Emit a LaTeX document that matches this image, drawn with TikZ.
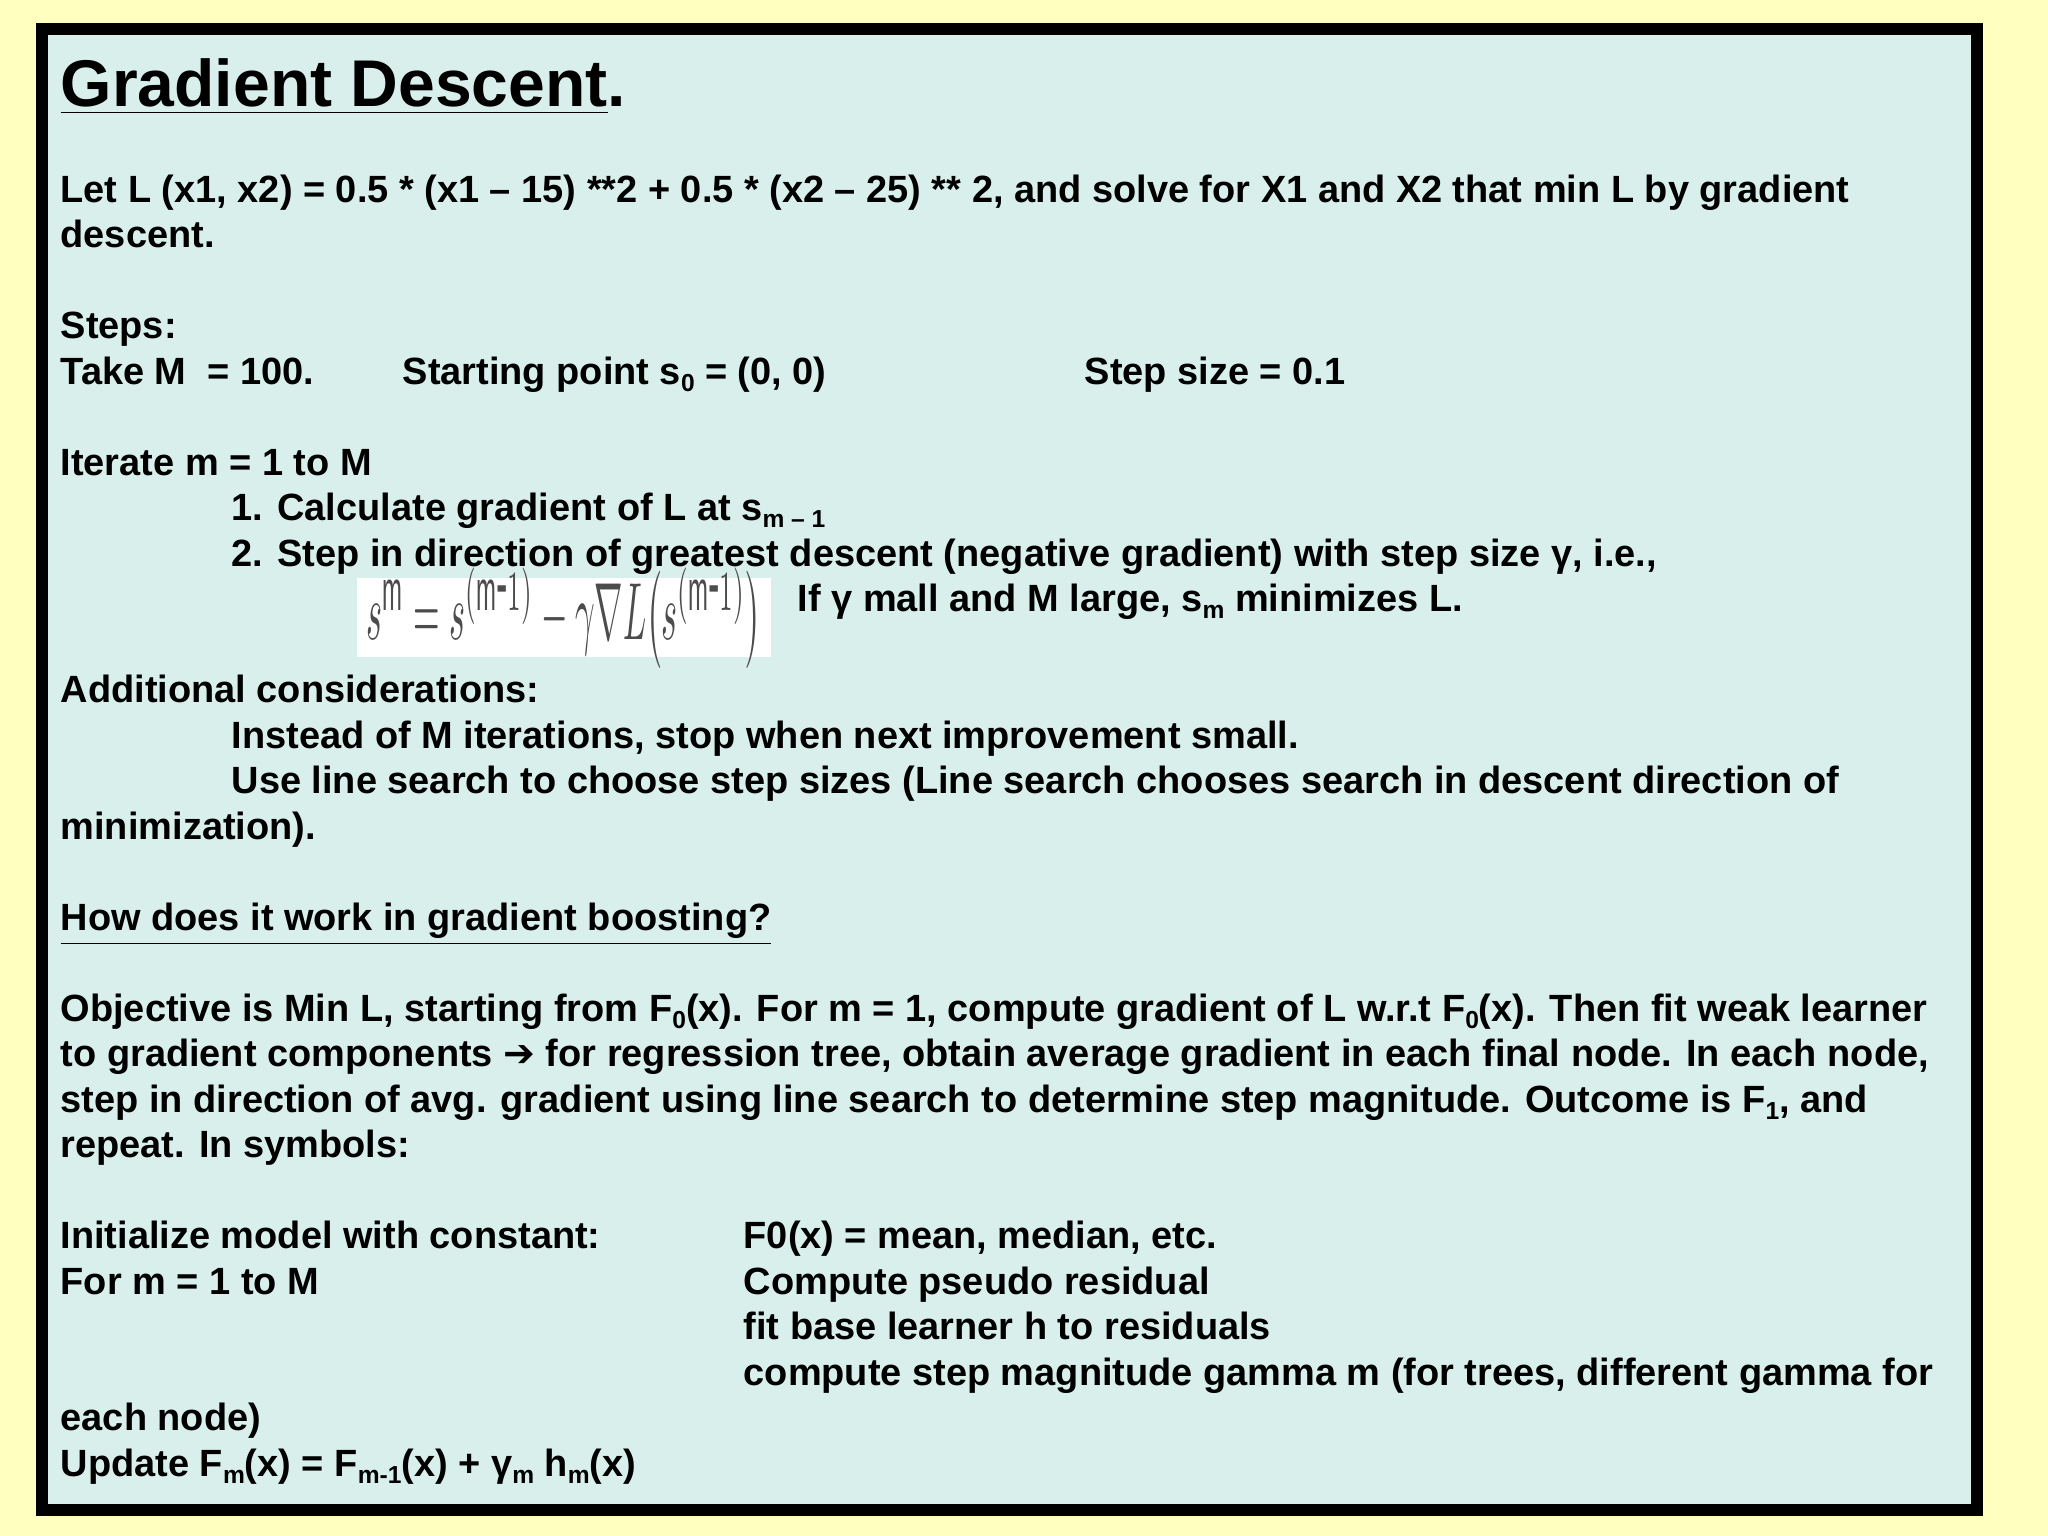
\documentclass[tikz,border=0pt]{standalone}
\usepackage{fontspec}
\setmainfont{Liberation Sans}
\newfontfamily\djv{DejaVu Sans}
\definecolor{panel}{RGB}{216,239,235}
\definecolor{bgy}{RGB}{255,255,192}
\newcommand\Yb[1]{15.36-0.01306*(155+34.83*#1)}
\newcommand\sbs[1]{\raisebox{-0.35ex}{\scriptsize #1}}
\begin{document}
\begin{tikzpicture}[x=1cm,y=1cm,
  tx/.style={anchor=base west,inner sep=0pt,font=\bfseries\fontsize{10.8}{12}\selectfont}]
\useasboundingbox (0,0) rectangle (20.48,15.36);
\fill[bgy] (0,0) rectangle (20.48,15.36);
\draw[line width=3.5pt,fill=panel] (0.42,0.26) rectangle (19.77,15.07);
\node[tx,font=\bfseries\fontsize{18.8}{22}\selectfont] (title) at (0.6,14.29) {\underline{Gradient Descent}.};
\node[tx] (l0) at (0.6,{\Yb{0}}) {Let L (x1, x2) = 0.5 * (x1 – 15) **2 + 0.5 * (x2 – 25) ** 2, and solve for X1 and X2 that min L by gradient};
\node[tx] (l1) at (0.6,{\Yb{1}}) {descent.};
\node[tx] (l3) at (0.6,{\Yb{3}}) {Steps:};
\node[tx] (l4) at (0.6,{\Yb{4}}) {Take M\ \ = 100.};
\node[tx] (l4b) at (4.02,{\Yb{4}}) {Starting point s\sbs{0} = (0, 0)};
\node[tx] (l4c) at (10.84,{\Yb{4}}) {Step size = 0.1};
\node[tx] (l6) at (0.6,{\Yb{6}}) {Iterate m = 1 to M};
\node[tx] (l7) at (2.31,{\Yb{7}}) {1. Calculate gradient of L at s\sbs{m – 1}};
\node[tx] (l8) at (2.31,{\Yb{8}}) {2. Step in direction of greatest descent (negative gradient) with step size γ, i.e.,};
\fill[white] (3.57,8.79) rectangle (7.71,9.58);
\node[inner sep=0pt,text=black!70] (fm) at (5.64,9.18) {\resizebox{3.95cm}{0.72cm}{$s^{\mathrm{m}} = s^{(\mathrm{m}\mbox{-}1)} - \gamma\nabla L\bigl(s^{(\mathrm{m}\mbox{-}1)}\bigr)$}};
\node[tx] (l9) at (7.97,{\Yb{9}}) {If γ mall and M large, s\sbs{m} minimizes L.};
\node[tx] (l11) at (0.6,{\Yb{11}}) {Additional considerations:};
\node[tx] (l12) at (2.31,{\Yb{12}}) {Instead of M iterations, stop when next improvement small.};
\node[tx] (l13) at (2.31,{\Yb{13}}) {Use line search to choose step sizes (Line search chooses search in descent direction of};
\node[tx] (l14) at (0.6,{\Yb{14}}) {minimization).};
\node[tx] (l16) at (0.6,{\Yb{16}}) {\underline{How does it work in gradient boosting?}};
\node[tx] (l18) at (0.6,{\Yb{18}}) {Objective is Min L, starting from F\sbs{0}(x). For m = 1, compute gradient of L w.r.t F\sbs{0}(x). Then fit weak learner};
\node[tx] (l19) at (0.6,{\Yb{19}}) {to gradient components {\djv ➔} for regression tree, obtain average gradient in each final node. In each node,};
\node[tx] (l20) at (0.6,{\Yb{20}}) {step in direction of avg. gradient using line search to determine step magnitude. Outcome is F\sbs{1}, and};
\node[tx] (l21) at (0.6,{\Yb{21}}) {repeat. In symbols:};
\node[tx] (l23) at (0.6,{\Yb{23}}) {Initialize model with constant:};
\node[tx] (l23b) at (7.43,{\Yb{23}}) {F0(x) = mean, median, etc.};
\node[tx] (l24) at (0.6,{\Yb{24}}) {For m = 1 to M};
\node[tx] (l24b) at (7.43,{\Yb{24}}) {Compute pseudo residual};
\node[tx] (l25) at (7.43,{\Yb{25}}) {fit base learner h to residuals};
\node[tx] (l26) at (7.43,{\Yb{26}}) {compute step magnitude gamma m (for trees, different gamma for};
\node[tx] (l27) at (0.6,{\Yb{27}}) {each node)};
\node[tx] (l28) at (0.6,{\Yb{28}}) {Update F\sbs{m}(x) = F\sbs{m-1}(x) + γ\sbs{m} h\sbs{m}(x)};
\end{tikzpicture}
\end{document}
